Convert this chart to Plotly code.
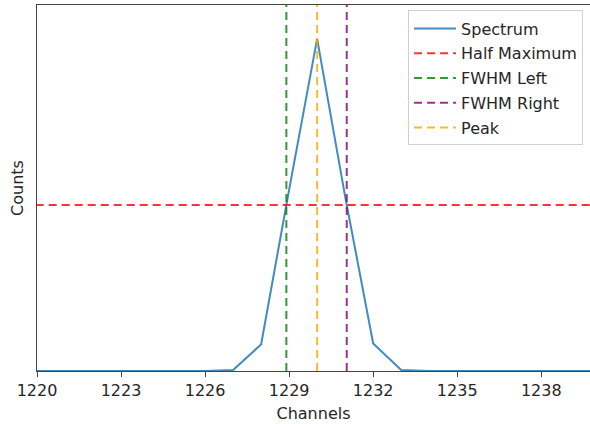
import plotly.graph_objects as go

# Data
channels = list(range(1215, 1246))
counts = [0, 0, 0, 0, 0, 0, 0, 0, 0, 0, 0, 0, 3, 80, 546, 1000, 525, 83, 3, 0,
          0, 0, 0, 0, 0, 0, 0, 0, 0, 0, 0]
x_range = [1220, 1239.74]
x_ticks = [1220, 1223, 1226, 1229, 1232, 1235, 1238]

peak_idx = max(range(len(counts)), key=lambda i: counts[i])
peak_ch = channels[peak_idx]
peak_val = counts[peak_idx]
half_max = peak_val / 2.0


def cross(i0, i1):
    x0, x1 = channels[i0], channels[i1]
    y0, y1 = counts[i0], counts[i1]
    return x0 + (half_max - y0) * (x1 - x0) / (y1 - y0)


li = peak_idx
while counts[li - 1] >= half_max:
    li -= 1
fwhm_left = cross(li - 1, li)
ri = peak_idx
while counts[ri + 1] >= half_max:
    ri += 1
fwhm_right = cross(ri, ri + 1)

y_top = peak_val * 1.102
y_range = [0, y_top]

FONT = "DejaVu Sans"
FS = 16
TXT = "#262626"
dash = "8px,5px"

fig = go.Figure()
fig.add_trace(go.Scatter(x=channels, y=counts, mode="lines", name="Spectrum",
                         line=dict(color="rgba(31,119,180,0.85)", width=2),
                         legendgroup="a"))
fig.add_trace(go.Scatter(x=[1200, 1260], y=[half_max, half_max], mode="lines",
                         name="Half Maximum",
                         line=dict(color="rgba(255,0,0,0.8)", width=2, dash=dash),
                         legendgroup="b"))
fig.add_trace(go.Scatter(x=[fwhm_left, fwhm_left], y=y_range, mode="lines",
                         name="FWHM Left",
                         line=dict(color="rgba(0,128,0,0.8)", width=2, dash=dash),
                         legendgroup="c"))
fig.add_trace(go.Scatter(x=[fwhm_right, fwhm_right], y=y_range, mode="lines",
                         name="FWHM Right",
                         line=dict(color="rgba(128,0,128,0.8)", width=2, dash=dash),
                         legendgroup="d"))
fig.add_trace(go.Scatter(x=[peak_ch, peak_ch], y=y_range, mode="lines",
                         name="Peak",
                         line=dict(color="rgba(255,165,0,0.8)", width=2, dash=dash),
                         legendgroup="e"))

fig.update_layout(
    width=590, height=424,
    margin=dict(l=37, r=0, t=5, b=53),
    paper_bgcolor="white", plot_bgcolor="white",
    font=dict(family=FONT, size=FS, color=TXT),
    showlegend=True,
    legend=dict(x=0.671, y=0.985, xanchor="left", yanchor="top",
                bgcolor="rgba(255,255,255,0.8)", bordercolor="#d0d0d0",
                borderwidth=1, tracegroupgap=1, itemwidth=42,
                font=dict(family=FONT, size=FS, color=TXT)),
    xaxis=dict(range=x_range, tickvals=x_ticks, ticktext=[str(t) for t in x_ticks],
               showgrid=False, zeroline=False, showline=True, linecolor="#444",
               linewidth=1, mirror=True, ticks="outside", ticklen=5, tickcolor="#444",
               tickfont=dict(family=FONT, size=FS, color=TXT),
               title=dict(text="Channels", standoff=8,
                          font=dict(family=FONT, size=FS, color=TXT))),
    yaxis=dict(range=y_range, showticklabels=False, ticks="", showgrid=False,
               zeroline=False, showline=True, linecolor="#444", linewidth=1,
               title=dict(text="Counts", standoff=8,
                          font=dict(family=FONT, size=FS, color=TXT))),
)

fig.write_html("out.html",
               config={"displayModeBar": False},
               post_script="document.body.style.margin='0px';"
                           "document.body.style.overflow='hidden';")
